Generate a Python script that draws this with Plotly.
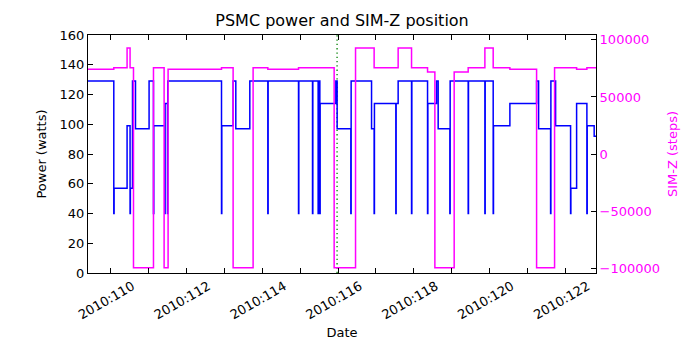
import plotly.graph_objects as go

# PSMC power: (day of 2010, level after the change in watts, dipped to 40 W during change)
power_day = [109.40, 110.090, 110.440, 110.519, 110.583, 110.662, 111.020, 111.136, 111.434,
             111.505, 112.929, 113.235, 113.306, 113.675, 114.150, 114.959, 115.328, 115.476,
             115.521, 115.943, 115.977, 116.338, 116.884, 116.952, 117.524, 117.585, 117.938,
             118.360, 118.597, 118.640, 118.948, 119.431, 119.871, 120.090, 120.530, 121.234,
             121.287, 121.603, 121.735, 122.130, 122.289, 122.560, 122.752, 122.900]
power_watts = [129, 57, 99, 57, 129, 97, 129, 99, 114,
               129, 99, 129, 97, 129, 129, 129, 129, 129,
               114, 129, 97, 129, 97, 114, 114, 129, 129,
               114, 129, 97, 129, 129, 129, 99, 114, 129,
               97, 129, 99, 57, 114, 99, 92, 92]
power_dip = [False, True, False, True, False, False, False, True, True,
             True, True, False, False, False, True, True, True, True,
             True, False, False, True, False, True, True, False, True,
             True, False, False, True, True, True, True, False, False,
             False, True, False, True, False, True, False, False]
DIP_WATTS = 40

# SIM-Z position: (day of 2010, position after the move in steps)
simz_day = [109.40, 110.090, 110.440, 110.519, 110.609, 111.136, 111.416, 111.521, 112.929,
            113.235, 113.762, 114.150, 114.959, 115.898, 116.462, 116.952, 117.585, 117.938,
            118.360, 118.553, 119.062, 119.431, 119.871, 120.090, 120.530, 121.234, 121.708,
            122.289, 122.560, 122.900]
simz_steps = [74300, 75700, 93000, 75700, -99600, 75700, -99600, 74300, 75700,
              -99600, 75700, 74300, 75700, -99600, 93000, 75700, 93000, 75700,
              71900, -99600, 71900, 75700, 93000, 75700, 74300, -99600, 75700,
              74300, 75700, 75700]

# Time marker
marker_day = 115.975

# Axis ticks
minor_days = list(range(110, 123))
label_days = [110, 112, 114, 116, 118, 120, 122]
tick_labels = ["2010:110", "2010:112", "2010:114", "2010:116", "2010:118", "2010:120", "2010:122"]
power_ticks = [0, 20, 40, 60, 80, 100, 120, 140, 160]
simz_ticks = [-100000, -50000, 0, 50000, 100000]
simz_tick_text = ["\u2212100000", "\u221250000", "0", "50000", "100000"]

# Build step paths; a dip is a brief drop to 40 W at the switch time
DIP_LEN = 0.008
px, py = [], []
for d, w, dip in zip(power_day, power_watts, power_dip):
    if dip:
        px += [d, d + DIP_LEN]
        py += [DIP_WATTS, w]
    else:
        px.append(d)
        py.append(w)

FONT = "DejaVu Sans"
BLUE = "#0000ff"
MAGENTA = "#ff00ff"

fig = go.Figure()
fig.add_trace(go.Scatter(x=[marker_day, marker_day], y=[0, 160], mode="lines",
                         line=dict(color="#008000", width=1.3, dash="1.3px,3px"),
                         hoverinfo="skip", showlegend=False))
fig.add_trace(go.Scatter(x=px, y=py, mode="lines", line_shape="hv",
                         line=dict(color=BLUE, width=1.5), name="power", showlegend=False))
fig.add_trace(go.Scatter(x=simz_day, y=simz_steps, mode="lines", line_shape="hv",
                         line=dict(color=MAGENTA, width=1.5), name="SIM-Z",
                         yaxis="y2", showlegend=False))

fig.update_layout(
    width=700, height=350,
    margin=dict(l=88, r=104, t=35, b=77),
    paper_bgcolor="white", plot_bgcolor="white",
    font=dict(family=FONT, size=13, color="black"),
    title=dict(text="PSMC power and SIM-Z position", x=0.4886, xanchor="center",
               y=0.943, yanchor="middle", font=dict(family=FONT, size=16, color="black")),
    xaxis=dict(range=[109.41, 122.80], tickvals=label_days, ticktext=tick_labels,
               tickangle=-30, ticks="inside", ticklen=5, tickcolor="black",
               minor=dict(tickvals=minor_days, ticks="inside", ticklen=5, tickcolor="black"),
               showline=True, linecolor="black", linewidth=1, mirror="ticks",
               showgrid=False, zeroline=False,
               tickfont=dict(size=13), ticklabelshift=22,
               title=dict(text="Date", font=dict(size=13), standoff=6)),
    yaxis=dict(range=[0, 160], tickvals=power_ticks, ticks="inside", ticklen=5,
               tickcolor="black", showline=True, linecolor="black", linewidth=1,
               showgrid=False, zeroline=False, tickfont=dict(size=13),
               title=dict(text="Power (watts)", font=dict(size=13), standoff=10)),
    yaxis2=dict(range=[-104300, 104300], overlaying="y", side="right",
                tickvals=simz_ticks, ticktext=simz_tick_text, ticks="inside", ticklen=5,
                tickcolor="black", showline=True, linecolor="black", linewidth=1,
                showgrid=False, zeroline=False, tickfont=dict(size=13, color=MAGENTA),
                title=dict(text="SIM-Z (steps)", font=dict(size=13, color=MAGENTA), standoff=8)),
)

fig.write_html("out.html")
